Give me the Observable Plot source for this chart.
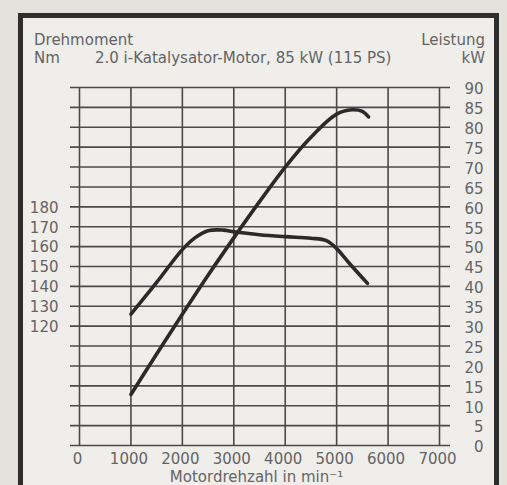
<!DOCTYPE html>
<html>
<head>
<meta charset="utf-8">
<script src="https://cdn.jsdelivr.net/npm/d3@7"></script>
<script src="https://cdn.jsdelivr.net/npm/@observablehq/plot@0.6"></script>
<style>
  html, body { margin: 0; padding: 0; }
  body { width: 507px; height: 485px; overflow: hidden; background: #e5e2dd; position: relative;
         font-family: "DejaVu Sans", sans-serif; color: #666; }
  #frame { position: absolute; left: 18px; top: 13px; width: 471px; height: 520px;
           border: 5px solid #2e2e2e; background: #f0eeeb; }
  .t { position: absolute; font-size: 15px; line-height: 17.5px; white-space: nowrap; color: #636363; }
  #chart { position: absolute; left: 0; top: 70px; }
</style>
</head>
<body>
<div id="frame"></div>
<div class="t" style="left:34px; top:32px;">Drehmoment<br>Nm</div>
<div class="t" style="left:95px; top:49.5px;">2.0 i-Katalysator-Motor, 85 kW (115 PS)</div>
<div class="t" style="right:22px; top:32px; text-align:right;">Leistung<br>kW</div>
<div id="chart"></div>
<script>
// Tick values
const rpmTicks = [0, 1000, 2000, 3000, 4000, 5000, 6000, 7000];
const kwTicks = [0, 5, 10, 15, 20, 25, 30, 35, 40, 45, 50, 55, 60, 65, 70, 75, 80, 85, 90];
const torqueTicks = [120, 130, 140, 150, 160, 170, 180];
const xLabel = "Motordrehzahl in min\u207B\u00B9";

// Torque curve (Nm) vs engine speed (rpm)
const torqueRpm = [1000, 1500, 2000, 2250, 2500, 2800, 3000, 3500, 4000, 4500, 4800, 5000, 5250, 5600];
const torqueNm  = [126, 142, 158.5, 164.5, 168, 168.3, 167.5, 166, 165, 164.2, 163, 159, 151.5, 141.5];

// Power curve (kW) vs engine speed (rpm)
const powerRpm = [1000, 1500, 2000, 2500, 3000, 3500, 4000, 4500, 5000, 5300, 5500, 5620];
const powerKw  = [12.8, 23, 33, 42.8, 52.2, 61.3, 70, 77.5, 83.3, 84.4, 84.0, 82.6];

// torque axis is tied to the kW axis: 120 Nm <-> 30 kW, 180 Nm <-> 60 kW
const nmToKw = nm => (nm - 60) / 2;

const torque = torqueRpm.map((r, i) => ({rpm: r, nm: torqueNm[i]}));
const power = powerRpm.map((r, i) => ({rpm: r, kw: powerKw[i]}));

const gridColor = "#4a4a4a";
const inkColor = "#2a2a2a";
const textColor = "#646464";
const fs = 15;

const chart = Plot.plot({
  width: 507,
  height: 415,
  marginLeft: 70,
  marginRight: 57,
  marginTop: 17,
  marginBottom: 40,
  style: {background: "transparent", fontFamily: "'DejaVu Sans', sans-serif", overflow: "visible"},
  x: {domain: [0, 7000], insetLeft: 9, insetRight: 11, axis: null},
  y: {domain: [0, 90], axis: null},
  marks: [
    Plot.ruleY(kwTicks, {stroke: gridColor, strokeWidth: 1.6}),
    Plot.ruleX(rpmTicks, {y1: d3.min(kwTicks), y2: d3.max(kwTicks), stroke: gridColor, strokeWidth: 1.6}),
    Plot.line(torque, {x: "rpm", y: d => nmToKw(d.nm), curve: "catmull-rom", stroke: inkColor, strokeWidth: 3.6, strokeLinecap: "round"}),
    Plot.line(power, {x: "rpm", y: "kw", curve: "catmull-rom", stroke: inkColor, strokeWidth: 3.6, strokeLinecap: "round"}),
    Plot.text(kwTicks, {y: d => d, text: d => String(d), frameAnchor: "right", textAnchor: "end", dx: 33, dy: 2, fontSize: fs, fill: textColor}),
    Plot.text(torqueTicks, {y: d => nmToKw(d), text: d => String(d), frameAnchor: "left", textAnchor: "end", dx: -12, dy: 1, fontSize: fs, fill: textColor}),
    Plot.text(rpmTicks, {x: d => d, text: d => String(d), frameAnchor: "bottom", lineAnchor: "top", dy: 8, dx: -2, fontSize: fs, fill: textColor}),
    Plot.text([xLabel], {text: d => d, frameAnchor: "bottom", lineAnchor: "top", dy: 26, dx: -4, fontSize: fs, fill: textColor})
  ]
});
document.getElementById("chart").appendChild(chart);
</script>
</body>
</html>
